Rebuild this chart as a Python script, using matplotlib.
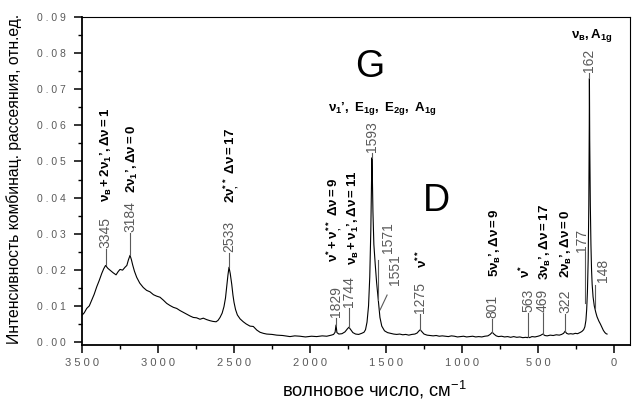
import numpy as np
import matplotlib
matplotlib.use("Agg")
import matplotlib.pyplot as plt
from matplotlib import font_manager
from matplotlib.ticker import MultipleLocator, FixedLocator, FixedFormatter

# ---------------- data ----------------
wavenumber = [3500, 3485, 3469, 3452, 3436, 3420, 3403, 3387, 3370, 3357,
              3345, 3330, 3316, 3296, 3276, 3262, 3250, 3233, 3217, 3205,
              3195, 3184, 3175, 3167, 3155, 3140, 3120, 3097, 3075, 3053,
              3030, 3009, 2987, 2965, 2943, 2921, 2899, 2877, 2855, 2833,
              2811, 2789, 2768, 2746, 2724, 2702, 2680, 2658, 2638, 2618,
              2605, 2592, 2578, 2566, 2556, 2548, 2540, 2533, 2525, 2515,
              2507, 2500, 2490, 2478, 2460, 2439, 2420, 2395, 2373, 2350,
              2329, 2307, 2285, 2250, 2219, 2180, 2132, 2100, 2066, 2030,
              1990, 1956, 1920, 1890, 1860, 1845, 1835, 1829, 1823, 1810,
              1790, 1770, 1755, 1744, 1732, 1718, 1700, 1680, 1660, 1645,
              1635, 1625, 1615, 1607, 1600, 1596, 1593, 1590, 1586, 1580,
              1571, 1562, 1551, 1540, 1528, 1510, 1490, 1470, 1450, 1430,
              1410, 1390, 1370, 1350, 1330, 1310, 1295, 1285, 1275, 1265,
              1250, 1230, 1210, 1190, 1170, 1150, 1130, 1110, 1090, 1070,
              1050, 1030, 1010, 990, 970, 950, 930, 910, 890, 870,
              850, 830, 815, 801, 790, 775, 760, 740, 720, 700,
              680, 660, 640, 620, 600, 580, 570, 563, 556, 540,
              520, 500, 485, 469, 455, 440, 420, 400, 380, 360,
              345, 332, 322, 312, 300, 285, 270, 255, 240, 225,
              212, 200, 192, 185, 180, 175, 170, 166, 163, 162,
              160, 156, 152, 148, 144, 138, 130, 120, 112, 100,
              90, 79, 70, 60, 52, 46]
intensity = [.0074, .0081, .0093, .0100, .0116, .0132, .0153, .0170, .0190, .0203,
             .0212, .0204, .0199, .0192, .0186, .0195, .0201, .0199, .0207, .0212,
             .0227, .0240, .0228, .0214, .0196, .0179, .0163, .0151, .0143, .0139,
             .0131, .0127, .0124, .0116, .0107, .0101, .0096, .0093, .0087, .0082,
             .0077, .0072, .0068, .0067, .0063, .0066, .0062, .0059, .0057, .0056,
             .0060, .0068, .0080, .0098, .0122, .0153, .0185, .0207, .0190, .0160,
             .0130, .0110, .0090, .0075, .0064, .0056, .0050, .0044, .0043, .0033,
             .0027, .0024, .0022, .0021, .0019, .0018, .0015, .0017, .0016, .0014,
             .0016, .0015, .0017, .0016, .0019, .0021, .0027, .0047, .0026, .0022,
             .0023, .0028, .0036, .0041, .0034, .0026, .0022, .0021, .0024, .0027,
             .0034, .0055, .0100, .0180, .0310, .0430, .0510, .0460, .0360, .0270,
             .0215, .0165, .0115, .0068, .0044, .0031, .0026, .0024, .0022, .0021,
             .0022, .0020, .0021, .0019, .0021, .0022, .0025, .0030, .0034, .0029,
             .0022, .0019, .0018, .0017, .0018, .0016, .0017, .0016, .0015, .0017,
             .0016, .0014, .0015, .0016, .0014, .0015, .0016, .0014, .0015, .0014,
             .0016, .0017, .0021, .0027, .0022, .0017, .0015, .0016, .0014, .0015,
             .0013, .0015, .0013, .0014, .0012, .0013, .0012, .0014, .0012, .0015,
             .0014, .0016, .0018, .0022, .0018, .0017, .0019, .0018, .0020, .0019,
             .0021, .0024, .0030, .0024, .0022, .0023, .0022, .0024, .0023, .0026,
             .0029, .0034, .0042, .0060, .0090, .0140, .0230, .0380, .0600, .0730,
             .0560, .0380, .0270, .0200, .0160, .0125, .0100, .0082, .0070, .0058,
             .0050, .0040, .0032, .0026, .0023, .0022]
assert len(wavenumber) == len(intensity)

peak_labels = ["3345", "3184", "2533", "1829", "1744", "1593", "1275",
               "801", "563", "469", "322", "162"]
peak_wn = [3345, 3184, 2533, 1829, 1744, 1593, 1275, 801, 563, 469, 322, 162]
side_labels = ["1571", "1551", "177", "148"]

x_ticks = [3500, 3000, 2500, 2000, 1500, 1000, 500, 0]
y_ticks = [0.00, 0.01, 0.02, 0.03, 0.04, 0.05, 0.06, 0.07, 0.08, 0.09]

xlabel_text = "волновое число, см"
ylabel_text = "Интенсивность комбинац. рассеяния, отн.ед."

# ---------------- fonts ----------------
plt.rcParams["font.family"] = ["Liberation Sans", "DejaVu Sans"]
plt.rcParams["mathtext.fontset"] = "custom"
plt.rcParams["mathtext.rm"] = "Liberation Sans"
plt.rcParams["mathtext.bf"] = "Liberation Sans:bold"
plt.rcParams["mathtext.it"] = "Liberation Sans:bold"
plt.rcParams["mathtext.default"] = "bf"

GRAY = "#5a5a5a"

fig = plt.figure(figsize=(6.32, 4.01), dpi=100)
ax = fig.add_axes([82 / 632, 1 - 345 / 401, 548 / 632, 328 / 401])

ax.plot(wavenumber, intensity, color="black", lw=0.8)

ax.set_xlim(3500, -105)
ax.set_ylim(-0.00083, 0.0900)

# ticks
ax.xaxis.set_major_locator(FixedLocator(x_ticks))
ax.xaxis.set_major_formatter(FixedFormatter([" ".join(str(t)) for t in x_ticks]))
ax.xaxis.set_minor_locator(MultipleLocator(250))
ax.yaxis.set_major_locator(FixedLocator(y_ticks))
ax.yaxis.set_major_formatter(FixedFormatter([" ".join(f"{t:.2f}") for t in y_ticks]))
ax.yaxis.set_minor_locator(MultipleLocator(0.005))
ax.tick_params(axis="both", which="major", direction="out", length=5.5, width=1.1,
               colors="black", labelcolor=GRAY)
ax.tick_params(axis="both", which="minor", direction="out", length=3, width=1.0)
ax.tick_params(axis="x", labelsize=8, pad=3.5)
ax.tick_params(axis="y", labelsize=7.5, pad=6)
for s in ["left", "bottom"]:
    ax.spines[s].set_linewidth(1.3)
for s in ["top", "right"]:
    ax.spines[s].set_linewidth(0.8)

# axis labels
fig.text(14 / 632, 1 - 179 / 401, ylabel_text, rotation=90, ha="center", va="center",
         fontsize=11.3)
fig.text(374 / 632, 1 - 390 / 401, xlabel_text + r"$\mathrm{^{-1}}$", ha="center",
         va="center", fontsize=13.2)

# peak labels with leader lines
label_bottom = {"3345": 0.026, "3184": 0.0305, "2533": 0.0249, "1829": 0.0069,
                "1744": 0.0097, "1593": 0.0526, "1275": 0.0080, "801": 0.0066,
                "563": 0.0083, "469": 0.0083, "322": 0.0080, "162": 0.0748}
wn_asc = wavenumber[::-1]
in_asc = intensity[::-1]
for lab, w in zip(peak_labels, peak_wn):
    yb = label_bottom[lab]
    yp = np.interp(w, wn_asc, in_asc)
    ax.plot([w, w], [yp, yb - 0.0003], color=GRAY, lw=0.8)
    ax.text(w, yb, lab, rotation=90, ha="center", va="bottom", fontsize=10,
            color=GRAY)

# offset labels for shoulders
side_pos = {"1571": (1487, 0.0246), "1551": (1441, 0.0158),
            "177": (211, 0.0249), "148": (72, 0.0166)}
side_lines = {"1571": ([1555, 1555], [0.0116, 0.0227]),
              "1551": ([1539, 1493], [0.0089, 0.0130]),
              "177": ([191, 191], [0.0108, 0.0249]),
              "148": ([125, 125], [0.0094, 0.0158])}
for lab in side_labels:
    xs, ys = side_lines[lab]
    ax.plot(xs, ys, color=GRAY, lw=0.8)
    x, y = side_pos[lab]
    ax.text(x, y, lab, rotation=90, ha="center", va="bottom", fontsize=10, color=GRAY)

# assignments (bold, rotated)
P = "\u2019"
assign = [
    (3336, 0.0388, r"$\nu_{в}+2\nu_{1}" + P + r", \Delta\nu=1$"),
    (3171, 0.0413, r"$2\nu_{1}" + P + r", \Delta\nu=0$"),
    (2513, 0.0385, r"$2\nu^{**}_{,}\ \Delta\nu=17$"),
    (1836, 0.0222, r"$\nu^{*}+\nu^{**}_{,}\ \Delta\nu=9$"),
    (1717, 0.0213, r"$\nu_{в}+\nu_{1}" + P + r", \Delta\nu=11$"),
    (1263, 0.0205, r"$\nu^{**}$"),
    (783, 0.0180, r"$5\nu_{в}" + P + r", \Delta\nu=9$"),
    (586, 0.0177, r"$\nu^{*}$"),
    (454, 0.0172, r"$3\nu_{в}" + P + r", \Delta\nu=17$"),
    (316, 0.0177, r"$2\nu_{в}" + P + r", \Delta\nu=0$"),
]
for x, y, t in assign:
    ax.text(x, y, t, rotation=90, ha="center", va="bottom", fontsize=9.5, color="black")

ax.text(145, 0.0850, r"$\nu_{в}, A_{1g}$", ha="center", va="center", fontsize=9.5)
ax.text(1526, 0.0648, r"$\nu_{1}" + P + r",\ E_{1g},\ E_{2g},\ A_{1g}$", ha="center",
        va="center", fontsize=9.5)
ax.text(1605, 0.0762, "G", ha="center", va="center", fontsize=27)
ax.text(1171, 0.0390, "D", ha="center", va="center", fontsize=27)

fig.savefig("out.png", dpi=100)
